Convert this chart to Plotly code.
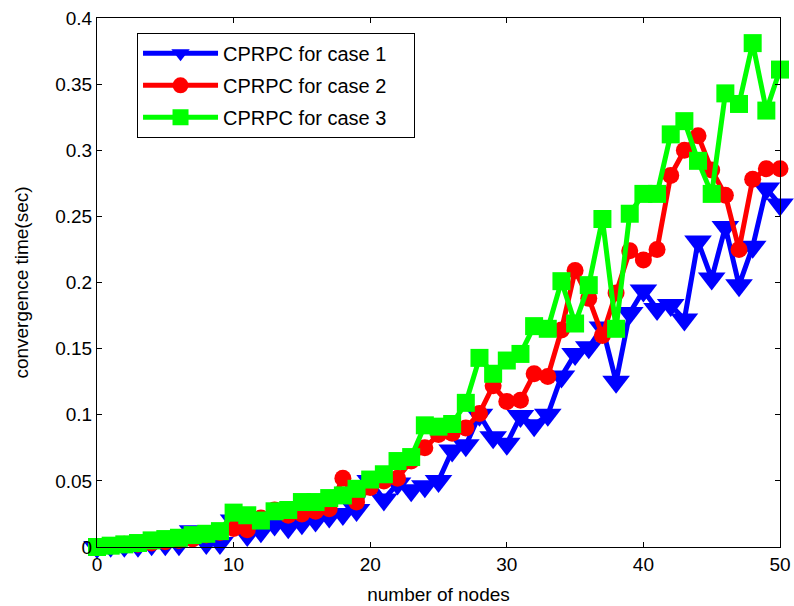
import plotly.graph_objects as go

nodes = list(range(0, 51))

case1 = [0, 0.001, 0.001, 0.001, 0.002, 0.002, 0.002, 0.012, 0.003, 0.003,
         0.020, 0.009, 0.012, 0.017, 0.015, 0.018, 0.020, 0.023, 0.025, 0.028,
         0.050, 0.036, 0.048, 0.043, 0.046, 0.050, 0.073, 0.077, 0.100, 0.083,
         0.078, 0.099, 0.092, 0.100, 0.129, 0.146, 0.151, 0.166, 0.125, 0.177,
         0.194, 0.180, 0.183, 0.172, 0.231, 0.203, 0.242, 0.198, 0.227, 0.271,
         0.259]
case2 = [0, 0.001, 0.002, 0.002, 0.003, 0.004, 0.005, 0.006, 0.009, 0.011,
         0.014, 0.013, 0.022, 0.028, 0.024, 0.025, 0.027, 0.029, 0.052, 0.034,
         0.045, 0.050, 0.052, 0.065, 0.075, 0.085, 0.086, 0.090, 0.101, 0.122,
         0.110, 0.111, 0.131, 0.129, 0.164, 0.209, 0.188, 0.160, 0.192, 0.224,
         0.217, 0.225, 0.281, 0.300, 0.311, 0.285, 0.266, 0.225, 0.278, 0.286,
         0.286]
case3 = [0, 0.001, 0.002, 0.003, 0.005, 0.006, 0.007, 0.009, 0.010, 0.012,
         0.026, 0.024, 0.020, 0.027, 0.028, 0.034, 0.034, 0.037, 0.039, 0.044,
         0.051, 0.055, 0.065, 0.068, 0.092, 0.091, 0.093, 0.109, 0.143, 0.131,
         0.141, 0.146, 0.167, 0.165, 0.201, 0.169, 0.198, 0.248, 0.165, 0.252,
         0.267, 0.267, 0.312, 0.322, 0.292, 0.267, 0.343, 0.335, 0.381, 0.330,
         0.361]

names = ["CPRPC for case 1", "CPRPC for case 2", "CPRPC for case 3"]
colors = ["#0000FF", "#FF0000", "#00FF00"]
symbols = ["triangle-down", "circle", "square"]
sizes = [24, 17, 18]

fig = go.Figure()
for i, (ys, nm, c, sym, sz) in enumerate(zip([case1, case2, case3], names, colors, symbols, sizes)):
    fig.add_trace(go.Scatter(
        x=nodes, y=ys, name=nm + "\u00a0\u00a0\u00a0\u00a0", mode="lines+markers",
        line=dict(color=c, width=5),
        marker=dict(symbol=sym, size=sz, color=c, line=dict(width=0)),
        cliponaxis=False, legendgroup="g%d" % i,
    ))

font_family = "Liberation Sans, Arial, sans-serif"
fig.update_layout(
    width=794, height=606,
    margin=dict(l=97, r=14, t=18, b=59),
    paper_bgcolor="white", plot_bgcolor="white",
    font=dict(family=font_family, size=19, color="black"),
    showlegend=True,
    legend=dict(
        x=0.0586, y=0.972, xanchor="left", yanchor="top",
        bgcolor="white", bordercolor="black", borderwidth=1,
        font=dict(family=font_family, size=20, color="black"),
        itemwidth=75, tracegroupgap=3, traceorder="grouped",
    ),
)
fig.update_xaxes(
    range=[0, 50], tickvals=[0, 10, 20, 30, 40, 50],
    ticks="inside", ticklen=5, tickcolor="black",
    showline=True, linecolor="black", linewidth=1, mirror="ticks",
    showgrid=False, zeroline=False, automargin=False,
    title=dict(text="number of nodes", font=dict(size=19), standoff=13),
    tickfont=dict(size=19),
)
fig.update_yaxes(
    range=[0, 0.4], tickvals=[0, 0.05, 0.1, 0.15, 0.2, 0.25, 0.3, 0.35, 0.4],
    ticktext=["0", "0.05", "0.1", "0.15", "0.2", "0.25", "0.3", "0.35", "0.4"],
    ticks="inside", ticklen=5, tickcolor="black",
    showline=True, linecolor="black", linewidth=1, mirror="ticks",
    showgrid=False, zeroline=False, automargin=False,
    title=dict(text="convergence time(sec)", font=dict(size=19), standoff=21),
    tickfont=dict(size=19),
)

fig.write_html("out.html")
